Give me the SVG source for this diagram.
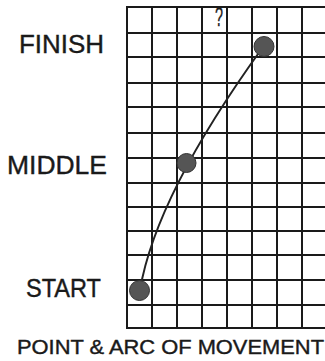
<svg xmlns="http://www.w3.org/2000/svg" width="325" height="361" viewBox="0 0 325 361">
<style>
.grid line{stroke:#1a1a1a;stroke-width:2}
.lbl{font-family:"Liberation Sans",Arial,sans-serif;fill:#1a1a1a;stroke:#1a1a1a;stroke-width:0.4}
.dot{fill:#555;stroke:#333;stroke-width:1}
.arc{fill:none;stroke:#222;stroke-width:2}
</style>
<rect width="325" height="361" fill="#fff"/>
<g id="grid" class="grid">
<line x1="127" y1="6" x2="127" y2="329"/>
<line x1="152" y1="6" x2="152" y2="329"/>
<line x1="177" y1="6" x2="177" y2="329"/>
<line x1="202" y1="6" x2="202" y2="329"/>
<line x1="227" y1="6" x2="227" y2="329"/>
<line x1="252" y1="6" x2="252" y2="329"/>
<line x1="277" y1="6" x2="277" y2="329"/>
<line x1="302" y1="6" x2="302" y2="329"/>
<line x1="126" y1="7" x2="325" y2="7"/>
<line x1="126" y1="33" x2="325" y2="33"/>
<line x1="126" y1="57" x2="325" y2="57"/>
<line x1="126" y1="83" x2="325" y2="83"/>
<line x1="126" y1="107" x2="325" y2="107"/>
<line x1="126" y1="133" x2="325" y2="133"/>
<line x1="126" y1="158" x2="325" y2="158"/>
<line x1="126" y1="183" x2="325" y2="183"/>
<line x1="126" y1="207" x2="325" y2="207"/>
<line x1="126" y1="231" x2="325" y2="231"/>
<line x1="126" y1="255" x2="325" y2="255"/>
<line x1="126" y1="280" x2="325" y2="280"/>
<line x1="126" y1="305" x2="325" y2="305"/>
<line x1="126" y1="328" x2="325" y2="328"/>
</g>
<g id="connectors">
<path class="arc" d="M140,290 Q156,195 263,47"/>
</g>
<g id="start"><circle class="dot" cx="139.5" cy="290.5" r="10"/></g>
<g id="middle"><circle class="dot" cx="186.5" cy="163" r="9.5"/></g>
<g id="finish"><circle class="dot" cx="264" cy="46.5" r="10"/></g>
<g id="labels">
<text class="lbl" x="19" y="53" font-size="26" textLength="85" lengthAdjust="spacingAndGlyphs">FINISH</text>
<text class="lbl" x="7" y="174" font-size="26" textLength="100" lengthAdjust="spacingAndGlyphs">MIDDLE</text>
<text class="lbl" x="26" y="297" font-size="26" textLength="75" lengthAdjust="spacingAndGlyphs">START</text>
<text class="lbl" x="17" y="354" font-size="20" textLength="307" lengthAdjust="spacingAndGlyphs">POINT &amp; ARC OF MOVEMENT</text>
<text class="lbl" x="215" y="26" font-size="28" textLength="8" lengthAdjust="spacingAndGlyphs">?</text>
</g>
</svg>
